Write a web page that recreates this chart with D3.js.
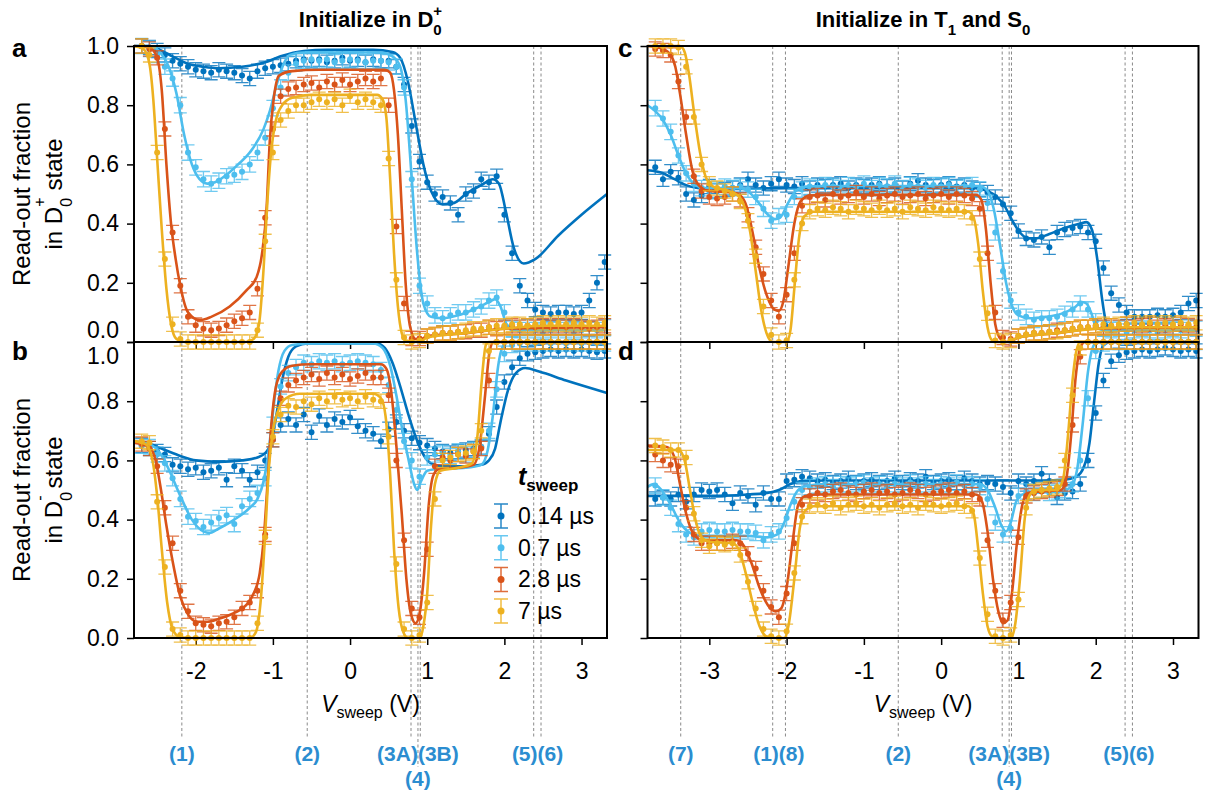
<!DOCTYPE html>
<html>
<head>
<meta charset="utf-8">
<script src="https://cdn.jsdelivr.net/npm/d3@7"></script>
<style>
body { margin: 0; background: #fff; }
svg { display: block; }
text { font-family: "Liberation Sans", Arial, sans-serif; }
</style>
</head>
<body>
<svg id="chart" width="1205" height="796"></svg>
<script>
// sweep voltages (V) of the data points
var voltsLeft = [-2.7,-2.6,-2.5,-2.4,-2.3,-2.2,-2.1,-2.0,-1.9,-1.8,
  -1.7,-1.6,-1.5,-1.4,-1.3,-1.2,-1.1,-1.0,-0.9,-0.8,
  -0.7,-0.6,-0.5,-0.4,-0.3,-0.2,-0.1,0,0.1,0.2,
  0.3,0.4,0.5,0.6,0.7,0.8,0.9,1.0,1.1,1.2,
  1.3,1.4,1.5,1.6,1.7,1.8,1.9,2.0,2.1,2.2,
  2.3,2.4,2.5,2.6,2.7,2.8,2.9,3.0,3.1,3.2,
  3.3];
var voltsRight = [-3.7,-3.6,-3.5,-3.4,-3.3,-3.2,-3.1,-3.0,-2.9,-2.8,
  -2.7,-2.6,-2.5,-2.4,-2.3,-2.2,-2.1,-2.0,-1.9,-1.8,
  -1.7,-1.6,-1.5,-1.4,-1.3,-1.2,-1.1,-1.0,-0.9,-0.8,
  -0.7,-0.6,-0.5,-0.4,-0.3,-0.2,-0.1,0,0.1,0.2,
  0.3,0.4,0.5,0.6,0.7,0.8,0.9,1.0,1.1,1.2,
  1.3,1.4,1.5,1.6,1.7,1.8,1.9,2.0,2.1,2.2,
  2.3,2.4,2.5,2.6,2.7,2.8,2.9,3.0,3.1,3.2,
  3.3];

var seriesLabels = ["0.14 µs", "0.7 µs", "2.8 µs", "7 µs"];
var colors = ["#0072BD", "#4DBEEE", "#D95319", "#EDB120"];
var errBar = [0.024, 0.026, 0.024, 0.024];

// panel a : initialize in D0+, read D0+
var aDark = [1.0,0.995,0.985,0.97,0.95,0.94,0.93,0.92,0.915,0.91,
  0.92,0.915,0.91,0.9,0.89,0.915,0.925,0.93,0.935,0.94,
  0.95,0.955,0.95,0.955,0.945,0.95,0.96,0.95,0.955,0.945,
  0.955,0.95,0.95,0.93,0.87,0.73,0.61,0.54,0.5,0.49,
  0.47,0.43,0.5,0.51,0.55,0.54,0.56,0.43,0.3,0.19,
  0.14,0.11,0.1,0.095,0.1,0.1,0.095,0.1,0.14,0.2,
  0.27];
var aLight = [1.0,0.99,0.97,0.93,0.89,0.8,0.64,0.59,0.55,0.535,
  0.545,0.56,0.565,0.575,0.6,0.64,0.69,0.79,0.86,0.91,
  0.94,0.95,0.955,0.95,0.955,0.945,0.95,0.955,0.95,0.945,
  0.95,0.95,0.945,0.93,0.86,0.55,0.19,0.13,0.09,0.08,
  0.09,0.1,0.1,0.11,0.12,0.14,0.15,0.1,0.045,0.04,
  0.05,0.04,0.035,0.04,0.05,0.04,0.035,0.04,0.045,0.04,
  0.05];
var aRed = [1.0,0.99,0.96,0.72,0.37,0.19,0.085,0.057,0.045,0.04,
  0.046,0.057,0.07,0.08,0.1,0.18,0.42,0.72,0.83,0.855,
  0.86,0.87,0.875,0.86,0.88,0.87,0.885,0.87,0.88,0.89,
  0.88,0.89,0.8,0.39,0.13,0.012,0.012,0.02,0.025,0.03,
  0.03,0.035,0.035,0.04,0.04,0.05,0.045,0.05,0.055,0.05,
  0.055,0.05,0.055,0.05,0.055,0.05,0.055,0.05,0.045,0.05,
  0.055];
var aYellow = [1.0,0.97,0.64,0.28,0.06,0.01,0,0,0,0,
  0,0,0,0,0,0.04,0.34,0.64,0.75,0.78,
  0.8,0.8,0.81,0.82,0.81,0.82,0.8,0.83,0.81,0.82,
  0.81,0.8,0.62,0.21,0.015,0,0.005,0.02,0.025,0.03,
  0.03,0.035,0.04,0.045,0.045,0.05,0.055,0.055,0.06,0.06,
  0.055,0.06,0.065,0.06,0.065,0.06,0.065,0.06,0.065,0.06,
  0.065];

// panel b : initialize in D0+, read D0-
var bDark = [0.65,0.64,0.63,0.62,0.585,0.58,0.57,0.575,0.56,0.565,
  0.575,0.535,0.58,0.565,0.535,0.56,0.6,0.67,0.72,0.74,
  0.72,0.755,0.695,0.75,0.72,0.74,0.73,0.745,0.715,0.7,
  0.69,0.665,0.705,0.73,0.7,0.675,0.66,0.65,0.64,0.63,
  0.625,0.63,0.635,0.64,0.645,0.69,0.78,0.865,0.915,0.945,
  0.96,0.965,0.97,0.975,0.97,0.975,0.97,0.975,0.97,0.965,
  0.97];
var bLight = [0.65,0.645,0.62,0.59,0.54,0.47,0.41,0.395,0.375,0.39,
  0.405,0.415,0.385,0.445,0.47,0.49,0.54,0.72,0.85,0.895,
  0.915,0.93,0.925,0.935,0.93,0.935,0.925,0.93,0.935,0.93,
  0.925,0.905,0.855,0.77,0.665,0.6,0.545,0.61,0.62,0.625,
  0.615,0.63,0.62,0.635,0.645,0.7,0.84,0.96,0.99,0.995,
  1.0,0.995,1.0,0.995,1.0,0.995,1.0,0.995,1.0,0.995,
  0.995];
var bRed = [0.655,0.64,0.58,0.44,0.32,0.16,0.09,0.05,0.045,0.04,
  0.05,0.055,0.07,0.1,0.12,0.16,0.35,0.67,0.81,0.855,
  0.87,0.88,0.89,0.875,0.895,0.88,0.89,0.875,0.885,0.895,
  0.88,0.88,0.82,0.6,0.33,0.1,0.07,0.3,0.58,0.61,
  0.6,0.62,0.615,0.63,0.64,0.87,1.0,1.0,1.0,1.0,
  1.0,1.0,1.0,1.0,1.0,1.0,1.0,1.0,1.0,1.0,
  1.0];
var bYellow = [0.665,0.66,0.46,0.24,0.03,0.01,0,0,0,0,
  0,0,0,0,0,0.05,0.34,0.68,0.755,0.785,
  0.78,0.8,0.79,0.81,0.8,0.815,0.805,0.81,0.8,0.815,
  0.805,0.8,0.68,0.25,0.03,0,0.01,0.12,0.47,0.6,
  0.61,0.62,0.625,0.63,0.7,0.97,1.0,1.0,1.0,1.0,
  1.0,1.0,1.0,1.0,1.0,1.0,1.0,1.0,1.0,1.0,
  1.0];

// panel c : initialize in T1 and S0, read D0+
var cDark = [0.59,0.55,0.575,0.555,0.5,0.48,0.495,0.525,0.51,0.515,
  0.52,0.53,0.55,0.53,0.52,0.535,0.55,0.53,0.525,0.535,
  0.52,0.53,0.525,0.53,0.535,0.52,0.53,0.525,0.53,0.535,
  0.525,0.53,0.52,0.535,0.545,0.53,0.525,0.53,0.535,0.525,
  0.53,0.52,0.515,0.505,0.49,0.465,0.435,0.375,0.35,0.345,
  0.355,0.32,0.37,0.38,0.385,0.39,0.37,0.34,0.25,0.165,
  0.125,0.1,0.085,0.085,0.085,0.09,0.085,0.09,0.1,0.13,
  0.14];
var cLight = [0.79,0.755,0.71,0.63,0.57,0.535,0.52,0.51,0.515,0.525,
  0.52,0.525,0.515,0.49,0.45,0.41,0.425,0.43,0.49,0.515,
  0.525,0.52,0.53,0.525,0.52,0.53,0.525,0.535,0.52,0.53,
  0.525,0.535,0.52,0.53,0.525,0.52,0.53,0.525,0.53,0.52,
  0.525,0.53,0.515,0.47,0.37,0.24,0.14,0.1,0.085,0.075,
  0.08,0.08,0.085,0.095,0.11,0.13,0.11,0.07,0.045,0.04,
  0.045,0.035,0.04,0.045,0.04,0.035,0.04,0.045,0.04,0.05,
  0.045];
var cRed = [0.99,0.985,0.97,0.88,0.76,0.56,0.51,0.49,0.485,0.49,
  0.5,0.48,0.43,0.32,0.23,0.14,0.085,0.16,0.3,0.46,
  0.49,0.495,0.48,0.5,0.49,0.495,0.505,0.49,0.5,0.485,
  0.495,0.5,0.49,0.495,0.5,0.485,0.495,0.5,0.49,0.5,
  0.495,0.485,0.45,0.3,0.1,0.015,0.01,0.02,0.025,0.03,
  0.03,0.035,0.04,0.04,0.045,0.05,0.05,0.055,0.05,0.055,
  0.05,0.06,0.05,0.055,0.06,0.05,0.055,0.05,0.06,0.055,
  0.05];
var cYellow = [1.0,1.0,1.0,0.995,0.93,0.76,0.6,0.535,0.52,0.51,
  0.5,0.475,0.41,0.29,0.12,0.024,0,0.005,0.21,0.4,
  0.44,0.45,0.445,0.455,0.45,0.44,0.455,0.45,0.445,0.455,
  0.445,0.45,0.44,0.455,0.45,0.445,0.455,0.45,0.445,0.45,
  0.44,0.42,0.28,0.097,0.005,0,0.005,0.02,0.025,0.03,
  0.03,0.035,0.035,0.04,0.045,0.05,0.05,0.055,0.06,0.055,
  0.06,0.06,0.065,0.06,0.065,0.06,0.065,0.06,0.065,0.06,
  0.065];

// panel d : initialize in T1 and S0, read D0-
var dDark = [0.47,0.475,0.47,0.485,0.46,0.485,0.5,0.495,0.5,0.485,
  0.455,0.49,0.48,0.45,0.49,0.47,0.47,0.53,0.535,0.545,
  0.54,0.53,0.535,0.525,0.53,0.54,0.525,0.53,0.535,0.525,
  0.53,0.54,0.525,0.535,0.53,0.545,0.525,0.53,0.535,0.525,
  0.54,0.53,0.52,0.525,0.52,0.51,0.49,0.53,0.52,0.53,
  0.555,0.53,0.475,0.49,0.495,0.52,0.6,0.76,0.87,0.935,
  0.955,0.965,0.97,0.975,0.97,0.975,0.98,0.975,0.97,0.975,
  0.97];
var dLight = [0.515,0.475,0.44,0.385,0.35,0.34,0.36,0.365,0.36,0.36,
  0.365,0.36,0.36,0.355,0.33,0.35,0.36,0.405,0.46,0.5,
  0.51,0.515,0.52,0.51,0.52,0.515,0.52,0.525,0.515,0.52,
  0.51,0.52,0.515,0.525,0.515,0.52,0.51,0.52,0.515,0.525,
  0.515,0.52,0.51,0.47,0.39,0.35,0.37,0.48,0.495,0.49,
  0.5,0.49,0.495,0.5,0.52,0.6,0.81,0.97,0.995,1.0,
  1.0,1.0,1.0,1.0,1.0,1.0,1.0,1.0,1.0,1.0,
  1.0];
var dRed = [0.62,0.6,0.585,0.58,0.44,0.35,0.32,0.32,0.32,0.32,
  0.327,0.32,0.285,0.235,0.16,0.105,0.07,0.15,0.32,0.45,
  0.48,0.49,0.485,0.495,0.5,0.49,0.485,0.495,0.5,0.49,
  0.495,0.485,0.49,0.5,0.495,0.485,0.49,0.495,0.5,0.49,
  0.495,0.485,0.47,0.33,0.16,0.06,0.12,0.34,0.48,0.49,
  0.495,0.5,0.505,0.52,0.72,0.95,1.0,1.0,1.0,1.0,
  1.0,1.0,1.0,1.0,1.0,1.0,1.0,1.0,1.0,1.0,
  1.0];
var dYellow = [0.65,0.645,0.635,0.635,0.61,0.42,0.33,0.31,0.32,0.315,
  0.32,0.28,0.19,0.1,0.03,0.006,0,0.023,0.22,0.41,
  0.445,0.45,0.445,0.455,0.44,0.45,0.455,0.445,0.45,0.44,
  0.45,0.455,0.445,0.45,0.44,0.455,0.45,0.445,0.45,0.455,
  0.445,0.43,0.27,0.08,0.006,0,0.01,0.13,0.44,0.495,
  0.5,0.505,0.51,0.6,0.82,0.98,1.0,1.0,1.0,1.0,
  1.0,1.0,1.0,1.0,1.0,1.0,1.0,1.0,1.0,1.0,
  1.0];

// model curves, [V, fraction]
var aDarkFit = [[-2.8,1.0],[-2.6,1.0],[-2.45,0.985],[-2.3,0.965],[-2.1,0.94],[-1.9,0.93],[-1.7,0.925],[-1.4,0.93],[-1.1,0.945],[-0.9,0.965],[-0.6,0.983],[-0.3,0.987],[0.3,0.987],[0.55,0.98],[0.65,0.96],[0.75,0.88],[0.85,0.74],[0.95,0.6],[1.05,0.51],[1.2,0.465],[1.35,0.47],[1.5,0.5],[1.7,0.53],[1.85,0.55],[1.93,0.535],[2.02,0.44],[2.12,0.32],[2.25,0.265],[2.4,0.28],[2.7,0.36],[3.0,0.43],[3.33,0.5]];
var aLightFit = [[-2.8,1.0],[-2.6,1.0],[-2.45,0.975],[-2.35,0.93],[-2.25,0.84],[-2.15,0.7],[-2.05,0.6],[-1.95,0.55],[-1.85,0.535],[-1.75,0.54],[-1.6,0.565],[-1.45,0.6],[-1.3,0.64],[-1.12,0.72],[-1.04,0.78],[-0.95,0.87],[-0.86,0.94],[-0.78,0.97],[-0.6,0.978],[0.4,0.978],[0.55,0.965],[0.65,0.93],[0.72,0.82],[0.8,0.55],[0.87,0.3],[0.95,0.13],[1.05,0.085],[1.2,0.08],[1.4,0.09],[1.6,0.11],[1.8,0.135],[1.88,0.145],[1.95,0.12],[2.03,0.06],[2.15,0.04],[3.33,0.04]];
var aRedFit = [[-2.8,1.0],[-2.6,0.995],[-2.5,0.96],[-2.44,0.85],[-2.38,0.6],[-2.32,0.4],[-2.26,0.28],[-2.2,0.19],[-2.1,0.1],[-1.95,0.074],[-1.8,0.085],[-1.56,0.12],[-1.34,0.175],[-1.21,0.22],[-1.14,0.3],[-1.08,0.46],[-1.04,0.68],[-0.99,0.82],[-0.92,0.9],[-0.75,0.915],[-0.4,0.92],[0.45,0.92],[0.52,0.91],[0.57,0.85],[0.62,0.7],[0.67,0.45],[0.72,0.2],[0.78,0.05],[0.85,0.01],[0.92,0.01],[1.0,0.02],[1.5,0.03],[2.0,0.045],[3.33,0.05]];
var aYellowFit = [[-2.8,1.0],[-2.68,0.99],[-2.6,0.94],[-2.55,0.82],[-2.5,0.62],[-2.44,0.38],[-2.38,0.18],[-2.32,0.06],[-2.25,0.01],[-2.15,0.0],[-1.35,0.0],[-1.25,0.01],[-1.18,0.06],[-1.12,0.25],[-1.07,0.48],[-1.02,0.65],[-0.96,0.75],[-0.88,0.8],[-0.75,0.825],[-0.5,0.835],[0.35,0.835],[0.42,0.82],[0.47,0.76],[0.52,0.55],[0.57,0.3],[0.62,0.12],[0.67,0.03],[0.72,0.005],[0.9,0.0],[1.0,0.015],[1.5,0.03],[2.0,0.045],[2.5,0.055],[3.33,0.055]];

var bDarkFit = [[-2.8,0.66],[-2.6,0.655],[-2.4,0.635],[-2.2,0.615],[-2.0,0.6],[-1.7,0.595],[-1.4,0.6],[-1.2,0.61],[-1.1,0.625],[-1.02,0.66],[-0.95,0.76],[-0.88,0.87],[-0.8,0.95],[-0.7,0.985],[-0.55,0.995],[0.35,0.995],[0.45,0.98],[0.55,0.93],[0.65,0.85],[0.75,0.76],[0.85,0.68],[0.95,0.62],[1.05,0.59],[1.2,0.58],[1.5,0.58],[1.7,0.585],[1.8,0.6],[1.88,0.64],[1.95,0.73],[2.05,0.84],[2.15,0.895],[2.27,0.912],[2.45,0.9],[2.8,0.87],[3.33,0.828]];
var bLightFit = [[-2.8,0.665],[-2.6,0.655],[-2.45,0.62],[-2.35,0.57],[-2.2,0.48],[-2.05,0.4],[-1.9,0.36],[-1.82,0.355],[-1.7,0.37],[-1.5,0.4],[-1.3,0.44],[-1.2,0.47],[-1.12,0.53],[-1.06,0.62],[-1.0,0.76],[-0.93,0.9],[-0.85,0.97],[-0.75,0.99],[-0.5,0.995],[0.3,0.995],[0.42,0.98],[0.52,0.92],[0.6,0.82],[0.68,0.7],[0.76,0.6],[0.83,0.52],[0.87,0.5],[0.92,0.53],[1.0,0.565],[1.1,0.57],[1.5,0.575],[1.7,0.585],[1.78,0.63],[1.85,0.75],[1.92,0.92],[1.98,0.985],[2.05,1.0],[3.33,1.0]];
var bRedFit = [[-2.8,0.66],[-2.6,0.645],[-2.52,0.6],[-2.45,0.5],[-2.38,0.38],[-2.3,0.26],[-2.2,0.14],[-2.1,0.08],[-1.98,0.055],[-1.85,0.055],[-1.7,0.065],[-1.5,0.085],[-1.35,0.11],[-1.25,0.15],[-1.17,0.22],[-1.12,0.33],[-1.07,0.52],[-1.02,0.72],[-0.96,0.85],[-0.88,0.9],[-0.75,0.92],[-0.5,0.925],[0.4,0.925],[0.47,0.91],[0.53,0.84],[0.6,0.65],[0.67,0.42],[0.73,0.2],[0.79,0.08],[0.85,0.05],[0.9,0.08],[0.96,0.22],[1.02,0.45],[1.08,0.55],[1.15,0.57],[1.4,0.575],[1.6,0.585],[1.68,0.65],[1.75,0.82],[1.81,0.97],[1.86,1.0],[3.33,1.0]];
var bYellowFit = [[-2.8,0.665],[-2.65,0.655],[-2.56,0.6],[-2.5,0.48],[-2.44,0.3],[-2.37,0.12],[-2.3,0.03],[-2.22,0.005],[-2.1,0.0],[-1.3,0.0],[-1.22,0.02],[-1.16,0.12],[-1.1,0.35],[-1.05,0.58],[-1.0,0.7],[-0.93,0.77],[-0.83,0.81],[-0.65,0.825],[0.3,0.825],[0.4,0.81],[0.46,0.75],[0.52,0.55],[0.57,0.3],[0.63,0.1],[0.69,0.02],[0.75,0.0],[0.9,0.0],[0.95,0.04],[1.0,0.15],[1.05,0.38],[1.1,0.52],[1.17,0.565],[1.4,0.575],[1.58,0.59],[1.65,0.68],[1.71,0.88],[1.76,0.99],[1.8,1.0],[3.33,1.0]];

var cDarkFit = [[-3.8,0.58],[-3.6,0.57],[-3.45,0.55],[-3.3,0.53],[-3.15,0.52],[-2.9,0.515],[-2.5,0.518],[-2.0,0.52],[0.45,0.52],[0.6,0.51],[0.72,0.49],[0.82,0.46],[0.92,0.41],[1.02,0.37],[1.12,0.35],[1.22,0.35],[1.4,0.365],[1.6,0.385],[1.8,0.4],[1.88,0.405],[1.95,0.38],[2.02,0.28],[2.08,0.15],[2.14,0.06],[2.2,0.04],[3.33,0.04]];
var cLightFit = [[-3.8,0.8],[-3.7,0.78],[-3.6,0.75],[-3.5,0.7],[-3.4,0.63],[-3.3,0.57],[-3.2,0.535],[-3.05,0.52],[-2.6,0.52],[-2.48,0.505],[-2.36,0.47],[-2.24,0.43],[-2.15,0.415],[-2.07,0.425],[-1.98,0.47],[-1.88,0.51],[-1.75,0.525],[-1.5,0.527],[0.5,0.527],[0.6,0.51],[0.68,0.45],[0.76,0.33],[0.84,0.2],[0.92,0.12],[1.0,0.09],[1.15,0.08],[1.35,0.085],[1.55,0.095],[1.72,0.115],[1.82,0.135],[1.88,0.13],[1.94,0.1],[2.0,0.055],[2.1,0.04],[3.33,0.04]];
var cRedFit = [[-3.8,1.0],[-3.6,0.99],[-3.5,0.97],[-3.44,0.93],[-3.38,0.84],[-3.3,0.7],[-3.22,0.58],[-3.12,0.525],[-3.0,0.51],[-2.7,0.505],[-2.6,0.495],[-2.52,0.46],[-2.44,0.37],[-2.36,0.26],[-2.26,0.16],[-2.16,0.11],[-2.1,0.105],[-2.04,0.14],[-1.98,0.25],[-1.9,0.4],[-1.82,0.475],[-1.7,0.495],[-1.5,0.497],[0.45,0.497],[0.52,0.48],[0.58,0.38],[0.64,0.2],[0.7,0.06],[0.77,0.01],[0.85,0.0],[0.92,0.005],[1.0,0.015],[1.5,0.03],[2.0,0.045],[3.33,0.05]];
var cYellowFit = [[-3.8,1.0],[-3.38,1.0],[-3.32,0.98],[-3.26,0.9],[-3.2,0.78],[-3.12,0.64],[-3.05,0.56],[-2.95,0.525],[-2.75,0.51],[-2.63,0.495],[-2.55,0.46],[-2.47,0.37],[-2.4,0.24],[-2.33,0.11],[-2.26,0.03],[-2.18,0.0],[-2.0,0.0],[-1.95,0.04],[-1.9,0.18],[-1.84,0.35],[-1.77,0.425],[-1.65,0.44],[-1.4,0.44],[0.35,0.44],[0.42,0.42],[0.48,0.33],[0.54,0.17],[0.6,0.05],[0.66,0.005],[0.72,0.0],[0.85,0.0],[1.0,0.015],[1.5,0.03],[2.0,0.045],[2.5,0.05],[3.33,0.05]];

var dDarkFit = [[-3.8,0.48],[-3.0,0.48],[-2.5,0.485],[-2.25,0.49],[-2.1,0.5],[-1.95,0.52],[-1.8,0.53],[-1.5,0.532],[1.3,0.532],[1.6,0.535],[1.75,0.545],[1.85,0.58],[1.92,0.66],[1.98,0.8],[2.04,0.93],[2.1,0.99],[2.2,1.0],[3.33,1.0]];
var dLightFit = [[-3.8,0.51],[-3.72,0.52],[-3.62,0.5],[-3.5,0.45],[-3.38,0.39],[-3.25,0.355],[-3.1,0.345],[-2.5,0.345],[-2.25,0.34],[-2.12,0.35],[-2.03,0.39],[-1.95,0.45],[-1.85,0.5],[-1.72,0.515],[-1.5,0.52],[0.5,0.52],[0.6,0.5],[0.7,0.44],[0.78,0.38],[0.84,0.36],[0.9,0.39],[0.97,0.46],[1.05,0.485],[1.2,0.49],[1.55,0.495],[1.68,0.51],[1.76,0.57],[1.83,0.72],[1.9,0.9],[1.96,0.98],[2.02,1.0],[3.33,1.0]];
var dRedFit = [[-3.8,0.65],[-3.55,0.645],[-3.45,0.61],[-3.38,0.52],[-3.3,0.42],[-3.2,0.35],[-3.08,0.33],[-2.65,0.33],[-2.55,0.31],[-2.45,0.25],[-2.35,0.17],[-2.24,0.11],[-2.14,0.09],[-2.07,0.1],[-2.0,0.17],[-1.92,0.33],[-1.85,0.45],[-1.76,0.48],[-1.6,0.485],[0.45,0.485],[0.53,0.46],[0.6,0.36],[0.67,0.2],[0.74,0.09],[0.8,0.05],[0.86,0.06],[0.92,0.16],[0.98,0.32],[1.05,0.45],[1.12,0.49],[1.3,0.495],[1.55,0.5],[1.62,0.54],[1.68,0.68],[1.74,0.88],[1.8,0.98],[1.86,1.0],[3.33,1.0]];
var dYellowFit = [[-3.8,0.635],[-3.4,0.635],[-3.32,0.6],[-3.25,0.5],[-3.18,0.4],[-3.1,0.34],[-3.0,0.325],[-2.7,0.32],[-2.62,0.3],[-2.53,0.22],[-2.44,0.12],[-2.35,0.04],[-2.26,0.005],[-2.15,0.0],[-2.03,0.0],[-1.97,0.05],[-1.9,0.2],[-1.83,0.37],[-1.76,0.43],[-1.65,0.445],[-1.4,0.445],[0.35,0.445],[0.42,0.42],[0.48,0.3],[0.54,0.15],[0.6,0.04],[0.66,0.005],[0.72,0.0],[0.9,0.0],[0.96,0.05],[1.02,0.2],[1.08,0.4],[1.14,0.48],[1.22,0.5],[1.5,0.5],[1.58,0.54],[1.64,0.68],[1.7,0.87],[1.75,0.97],[1.8,1.0],[3.33,1.0]];

// ticks
var yTicks = [0, 0.2, 0.4, 0.6, 0.8, 1.0];
var xTicksLeft = [-2, -1, 0, 1, 2, 3];
var xTicksRight = [-3, -2, -1, 0, 1, 2, 3];

// dashed marker voltages and their labels [text, V, row]
var linesLeft = [-2.18, -0.555, 0.79, 0.88, 0.91, 2.38, 2.475];
var linesRight = [-3.37, -2.18, -2.015, -0.555, 0.79, 0.88, 0.91, 2.38, 2.475];
var longLine = 0.88;
var labelsLeft = [["(1)", -2.18, 0], ["(2)", -0.555, 0], ["(3A)(3B)", 0.88, 0], ["(4)", 0.88, 1], ["(5)(6)", 2.43, 0]];
var labelsRight = [["(7)", -3.37, 0], ["(1)(8)", -2.1, 0], ["(2)", -0.555, 0], ["(3A)(3B)", 0.88, 0], ["(4)", 0.88, 1], ["(5)(6)", 2.43, 0]];

// scales
var xLeft = d3.scaleLinear().domain([-2.8, 3.33]).range([134, 607]);
var xRight = d3.scaleLinear().domain([-3.8, 3.33]).range([647.5, 1198.5]);
var yTop = d3.scaleLinear().domain([0, 1]).range([342, 46]);
var yBottom = d3.scaleLinear().domain([0, 1]).range([638, 342]);

var svg = d3.select("#chart");

var panels = [
  {letter: "a", x: xLeft, y: yTop, volts: voltsLeft, ticks: xTicksLeft, bottom: false, left: true,
    series: [aDark, aLight, aRed, aYellow], fits: [aDarkFit, aLightFit, aRedFit, aYellowFit]},
  {letter: "b", x: xLeft, y: yBottom, volts: voltsLeft, ticks: xTicksLeft, bottom: true, left: true,
    series: [bDark, bLight, bRed, bYellow], fits: [bDarkFit, bLightFit, bRedFit, bYellowFit]},
  {letter: "c", x: xRight, y: yTop, volts: voltsRight, ticks: xTicksRight, bottom: false, left: false,
    series: [cDark, cLight, cRed, cYellow], fits: [cDarkFit, cLightFit, cRedFit, cYellowFit]},
  {letter: "d", x: xRight, y: yBottom, volts: voltsRight, ticks: xTicksRight, bottom: true, left: false,
    series: [dDark, dLight, dRed, dYellow], fits: [dDarkFit, dLightFit, dRedFit, dYellowFit]}
];

// dashed guide lines behind everything
function guides(x, volts, labels) {
  var g = svg.append("g");
  g.selectAll("line").data(volts).enter().append("line")
    .attr("x1", function(d) { return x(d); })
    .attr("x2", function(d) { return x(d); })
    .attr("y1", yTop(1))
    .attr("y2", function(d) { return d === longLine ? 767 : 737; })
    .attr("stroke", "#8a8a8a")
    .attr("stroke-width", 1)
    .attr("stroke-dasharray", "3,2.5");
  g.selectAll("text").data(labels).enter().append("text")
    .attr("x", function(d) { return x(d[1]); })
    .attr("y", function(d) { return d[2] === 0 ? 761 : 786; })
    .attr("text-anchor", "middle")
    .attr("font-size", 21)
    .attr("font-weight", "bold")
    .attr("fill", "#2b8dd0")
    .style("font-family", "'Liberation Sans Narrow', 'Liberation Sans', Arial, sans-serif")
    .text(function(d) { return d[0]; });
}
guides(xLeft, linesLeft, labelsLeft);
guides(xRight, linesRight, labelsRight);

function drawPanel(p) {
  var g = svg.append("g");
  var x0 = p.x.range()[0], x1 = p.x.range()[1];
  var yb = p.y(0), yt = p.y(1);

  // x axis ticks (outward), labels only on bottom panels
  var xa = g.append("g")
    .attr("transform", "translate(0," + yb + ")")
    .call(d3.axisBottom(p.x).tickValues(p.ticks).tickSize(7).tickPadding(18)
      .tickFormat(function(d) { return p.bottom ? String(d) : ""; }));
  xa.select(".domain").remove();
  xa.selectAll("line").attr("stroke", "#000").attr("stroke-width", 1.5);
  xa.selectAll("text").attr("font-size", 23).attr("fill", "#000").style("font-family", "'Liberation Sans', Arial, sans-serif");

  // y axis
  var ya = g.append("g")
    .attr("transform", "translate(" + x0 + ",0)")
    .call(d3.axisLeft(p.y).tickValues(yTicks).tickSize(7).tickPadding(8)
      .tickFormat(function(d) { return p.left ? d.toFixed(1) : ""; }));
  ya.select(".domain").remove();
  ya.selectAll("line").attr("stroke", "#000").attr("stroke-width", 1.5);
  ya.selectAll("text").attr("font-size", 23).attr("fill", "#000").style("font-family", "'Liberation Sans', Arial, sans-serif");
  // keep the shared 0.0 / 1.0 labels apart
  if (p.left && !p.bottom) ya.selectAll("text").filter(function(d) { return d === 0; }).attr("dy", "-0.2em");
  if (p.left && p.bottom) ya.selectAll("text").filter(function(d) { return d === 1; }).attr("dy", "0.93em");

  var line = d3.line()
    .x(function(d) { return p.x(d[0]); })
    .y(function(d) { return p.y(d[1]); })
    .curve(d3.curveMonotoneX);

  p.series.forEach(function(vals, k) {
    var pts = p.volts.map(function(v, i) { return [v, vals[i]]; });
    var e = errBar[k];
    g.append("g")
      .attr("stroke", colors[k])
      .attr("stroke-width", 1.3)
      .attr("opacity", 0.8)
      .selectAll("path").data(pts).enter().append("path")
      .attr("fill", "none")
      .attr("d", function(d) {
        var cx = p.x(d[0]), ya1 = p.y(d[1] - e), ya2 = p.y(d[1] + e);
        return "M" + cx + "," + ya1 + "V" + ya2 +
          "M" + (cx - 6.5) + "," + ya1 + "h13" +
          "M" + (cx - 6.5) + "," + ya2 + "h13";
      });
    g.append("g").selectAll("circle").data(pts).enter().append("circle")
      .attr("cx", function(d) { return p.x(d[0]); })
      .attr("cy", function(d) { return p.y(d[1]); })
      .attr("r", 3)
      .attr("fill", colors[k]);
    g.append("path")
      .datum(p.fits[k])
      .attr("d", line)
      .attr("fill", "none")
      .attr("stroke", colors[k])
      .attr("stroke-width", 2.6)
      .attr("stroke-linejoin", "round");
  });

  // frame
  g.append("rect")
    .attr("x", x0).attr("y", yt)
    .attr("width", x1 - x0).attr("height", yb - yt)
    .attr("fill", "none")
    .attr("stroke", "#000")
    .attr("stroke-width", 2);

  // panel letter
  svg.append("text")
    .attr("x", p.left ? 12 : 618)
    .attr("y", yt + (p.bottom ? 18 : 11))
    .attr("font-size", 26)
    .attr("font-weight", "bold")
    .text(p.letter);
}
panels.forEach(drawPanel);

// titles
var t1 = svg.append("text").attr("x", 370.5).attr("y", 27).attr("text-anchor", "middle")
  .attr("font-size", 22).attr("font-weight", "bold");
t1.append("tspan").text("Initialize in D");
t1.append("tspan").attr("font-size", 15).attr("dy", 8).text("0");
t1.append("tspan").attr("font-size", 15).attr("dx", -8.3).attr("dy", -19).text("+");

var t2 = svg.append("text").attr("x", 923).attr("y", 27).attr("text-anchor", "middle")
  .attr("font-size", 22).attr("font-weight", "bold");
t2.append("tspan").text("Initialize in T");
t2.append("tspan").attr("font-size", 15).attr("dy", 8).text("1");
t2.append("tspan").attr("dy", -8).text(" and S");
t2.append("tspan").attr("font-size", 15).attr("dy", 8).text("0");

// y axis titles
function yTitle(cy, sign) {
  svg.append("text")
    .attr("transform", "translate(30," + cy + ") rotate(-90)")
    .attr("text-anchor", "middle")
    .attr("font-size", 24)
    .text("Read-out fraction");
  var t = svg.append("text")
    .attr("transform", "translate(62," + cy + ") rotate(-90)")
    .attr("text-anchor", "middle")
    .attr("font-size", 24);
  t.append("tspan").text("in D");
  t.append("tspan").attr("font-size", 16).attr("dy", 10).text("0");
  t.append("tspan").attr("font-size", 16).attr("dx", -8.9).attr("dy", -27).text(sign);
  t.append("tspan").attr("dx", 7).attr("dy", 17).text("state");
}
yTitle(yTop(0.5), "+");
yTitle(yBottom(0.5), "-");

// x axis titles
function xTitle(cx) {
  var t = svg.append("text").attr("x", cx).attr("y", 712).attr("text-anchor", "middle").attr("font-size", 23);
  t.append("tspan").attr("font-style", "italic").text("V");
  t.append("tspan").attr("font-size", 16).attr("dy", 6).text("sweep");
  t.append("tspan").attr("dy", -6).text(" (V)");
}
xTitle((xLeft.range()[0] + xLeft.range()[1]) / 2);
xTitle((xRight.range()[0] + xRight.range()[1]) / 2);

// legend
var lg = svg.append("g");
var lt = lg.append("text").attr("x", 518).attr("y", 485).attr("font-weight", "bold");
lt.append("tspan").attr("font-size", 25).attr("font-style", "italic").text("t");
lt.append("tspan").attr("font-size", 17).attr("dy", 6).text("sweep");

seriesLabels.forEach(function(name, k) {
  var cy = 516 + 31.7 * k;
  var row = lg.append("g").attr("transform", "translate(501," + cy + ")");
  row.append("path")
    .attr("d", "M0,-12V12M-7,-12h14M-7,12h14")
    .attr("stroke", colors[k]).attr("stroke-width", 1.5).attr("opacity", 0.85).attr("fill", "none");
  row.append("circle").attr("r", 3.5).attr("fill", colors[k]);
  lg.append("text").attr("x", 518).attr("y", cy + 8).attr("font-size", 23).text(name);
});
</script>
</body>
</html>
